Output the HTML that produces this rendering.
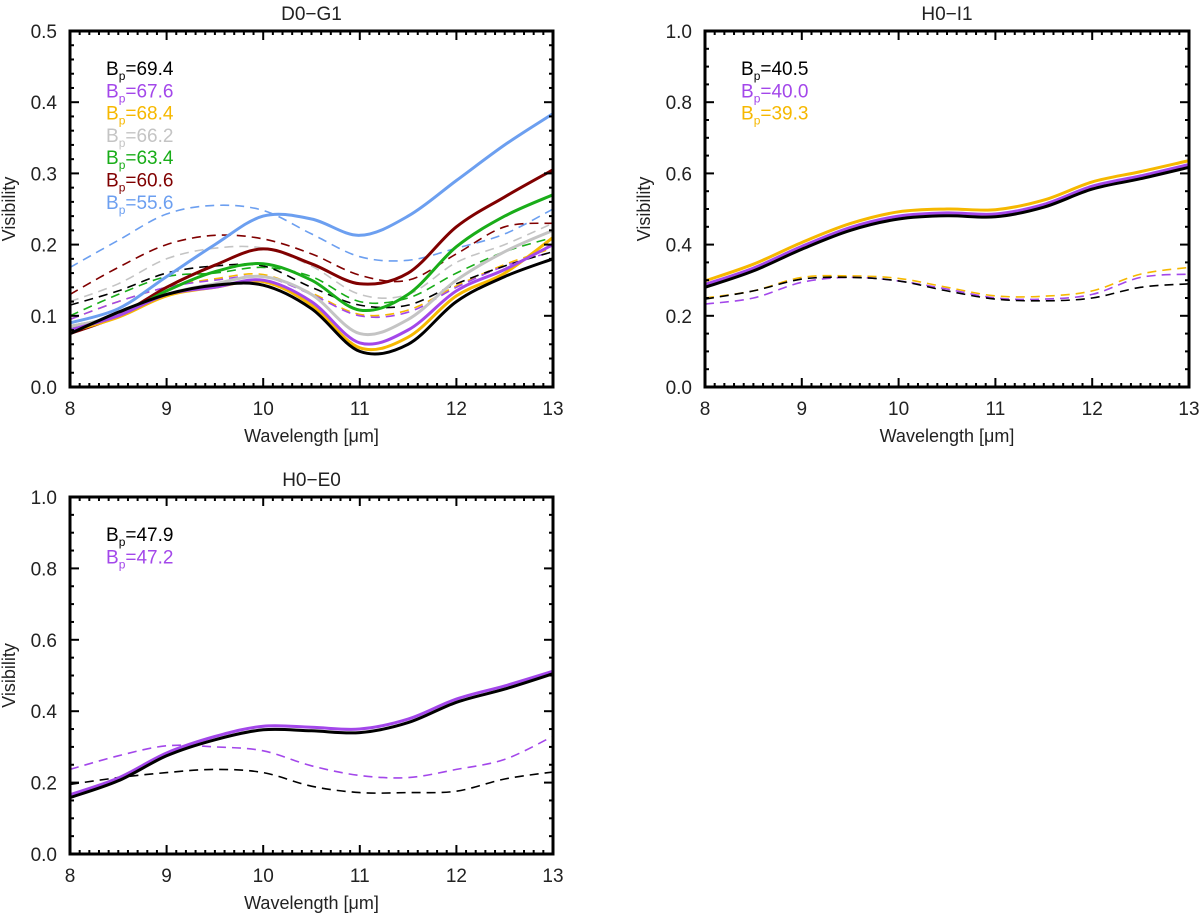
<!DOCTYPE html>
<html><head><meta charset="utf-8"><style>
body{margin:0;background:#fff;}
svg text{font-family:"Liberation Sans",sans-serif;fill:#222;}
</style></head><body>
<svg id="fig" width="1200" height="914" xmlns="http://www.w3.org/2000/svg"></svg>
<script>
// ---- data (wavelength grid in microns) ----
const wl = [8,8.5,9,9.5,10,10.5,11,11.5,12,12.5,13];
// Panel D0-G1
const p1Labels = ["69.4","67.6","68.4","66.2","63.4","60.6","55.6"];
const p1Colors = ["#000000","#a347ea","#f6b800","#c4c4c4","#19ad19","#800000","#6c9ff0"];
const p1Solid = [
 [0.075,0.105,0.130,0.143,0.143,0.110,0.050,0.060,0.120,0.155,0.180],
 [0.080,0.100,0.130,0.140,0.150,0.120,0.062,0.080,0.135,0.165,0.200],
 [0.078,0.098,0.128,0.140,0.148,0.115,0.055,0.070,0.128,0.160,0.210],
 [0.085,0.100,0.130,0.145,0.155,0.130,0.075,0.095,0.150,0.190,0.220],
 [0.085,0.100,0.135,0.162,0.173,0.150,0.108,0.130,0.197,0.240,0.270],
 [0.075,0.100,0.140,0.171,0.194,0.173,0.145,0.160,0.225,0.267,0.305],
 [0.090,0.110,0.155,0.200,0.240,0.236,0.213,0.240,0.290,0.340,0.384]
];
const p1Dashed = [
 [0.115,0.135,0.160,0.170,0.170,0.140,0.115,0.115,0.145,0.170,0.190],
 [0.095,0.120,0.140,0.150,0.155,0.130,0.100,0.105,0.140,0.170,0.190],
 [0.095,0.120,0.140,0.152,0.158,0.132,0.102,0.108,0.142,0.172,0.195],
 [0.120,0.145,0.180,0.195,0.195,0.170,0.130,0.130,0.175,0.200,0.230],
 [0.100,0.130,0.155,0.160,0.168,0.155,0.120,0.125,0.160,0.190,0.210],
 [0.130,0.168,0.200,0.213,0.208,0.187,0.157,0.150,0.187,0.225,0.230],
 [0.168,0.206,0.243,0.255,0.248,0.215,0.183,0.178,0.195,0.215,0.250]
];
// Panel H0-I1
const p2Labels = ["40.5","40.0","39.3"];
const p2Colors = ["#000000","#a347ea","#f6b800"];
const p2Solid = [
 [0.280,0.326,0.387,0.440,0.472,0.481,0.478,0.505,0.556,0.585,0.617],
 [0.288,0.334,0.395,0.448,0.480,0.489,0.486,0.513,0.564,0.593,0.625],
 [0.298,0.345,0.406,0.459,0.492,0.500,0.498,0.525,0.576,0.605,0.636]
];
const p2Dashed = [
 [0.247,0.270,0.303,0.308,0.298,0.270,0.247,0.242,0.250,0.280,0.290],
 [0.233,0.250,0.294,0.308,0.298,0.275,0.250,0.247,0.260,0.308,0.317],
 [0.250,0.270,0.308,0.312,0.305,0.280,0.256,0.255,0.270,0.317,0.336]
];
// Panel H0-E0
const p3Labels = ["47.9","47.2"];
const p3Colors = ["#000000","#a347ea"];
const p3Solid = [
 [0.158,0.205,0.275,0.320,0.348,0.345,0.340,0.368,0.425,0.462,0.505],
 [0.166,0.213,0.283,0.329,0.358,0.355,0.350,0.378,0.434,0.471,0.512]
];
const p3Dashed = [
 [0.195,0.214,0.228,0.237,0.228,0.190,0.172,0.172,0.176,0.210,0.230],
 [0.237,0.275,0.303,0.300,0.289,0.247,0.220,0.214,0.237,0.265,0.330]
];
const xTicks = [8,9,10,11,12,13];

const NS="http://www.w3.org/2000/svg";
const svg=document.getElementById('fig');
function mk(tag,attrs,parent){const e=document.createElementNS(NS,tag);for(const k in attrs)e.setAttribute(k,attrs[k]);(parent||svg).appendChild(e);return e;}
function smooth(pts){let d="M"+pts[0][0].toFixed(1)+","+pts[0][1].toFixed(1);
 for(let i=0;i<pts.length-1;i++){const p0=pts[Math.max(0,i-1)],p1=pts[i],p2=pts[i+1],p3=pts[Math.min(pts.length-1,i+2)];
  const c1=[p1[0]+(p2[0]-p0[0])/6,p1[1]+(p2[1]-p0[1])/6],c2=[p2[0]-(p3[0]-p1[0])/6,p2[1]-(p3[1]-p1[1])/6];
  d+=" C"+c1[0].toFixed(1)+","+c1[1].toFixed(1)+" "+c2[0].toFixed(1)+","+c2[1].toFixed(1)+" "+p2[0].toFixed(1)+","+p2[1].toFixed(1);}
 return d;}

function panel(name,title,L,R,T,B,ymax,yMajor,yMinor,labels,colors,solid,dashed){
 const g=mk('g',{});
 
 
 const sx=v=>L+(v-8)/5*(R-L), sy=v=>B-v/ymax*(B-T);
 for(let s=dashed.length-1;s>=0;s--){
  const p=mk('path',{d:smooth(wl.map((w,i)=>[sx(w),sy(dashed[s][i])])),fill:'none',stroke:colors[s],'stroke-width':1.6,'stroke-dasharray':'9,6'},g);
  
  
 }
 for(let s=solid.length-1;s>=0;s--){
  const p=mk('path',{d:smooth(wl.map((w,i)=>[sx(w),sy(solid[s][i])])),fill:'none',stroke:colors[s],'stroke-width':3,'stroke-linejoin':'round'},g);
  
  
 }
 const fr=mk('rect',{x:L,y:T,width:R-L,height:B-T,fill:'none',stroke:'#000','stroke-width':3},g);
 
 
 for(let v=8;v<=13.001;v+=0.1){const x=sx(v);const maj=Math.abs(v-Math.round(v))<0.01;const len=maj?9:4;
  mk('line',{x1:x,y1:B,x2:x,y2:B-len,stroke:'#000','stroke-width':2},g);mk('line',{x1:x,y1:T,x2:x,y2:T+len,stroke:'#000','stroke-width':2},g);}
 for(const v of xTicks){const t=mk('text',{x:sx(v),y:B+28,'text-anchor':'middle','font-size':19},g);t.textContent=v;
  
  }
 for(let k=0;k<=Math.round(ymax/yMinor);k++){const v=k*yMinor;const y=sy(v);const maj=Math.abs(v/yMajor-Math.round(v/yMajor))<0.01;const len=maj?9:4;
  mk('line',{x1:L,y1:y,x2:L+len,y2:y,stroke:'#000','stroke-width':2},g);mk('line',{x1:R,y1:y,x2:R-len,y2:y,stroke:'#000','stroke-width':2},g);
  if(maj){const t=mk('text',{x:L-13,y:y+7,'text-anchor':'end','font-size':19},g);t.textContent=v.toFixed(1);
   
   }}
 const tt=mk('text',{x:(L+R)/2,y:T-11,'text-anchor':'middle','font-size':19},g);tt.textContent=title;
 
 
 const xt=mk('text',{x:(L+R)/2,y:B+55,'text-anchor':'middle','font-size':18},g);xt.textContent='Wavelength [μm]';
 
 
 const yt=mk('text',{x:0,y:0,'text-anchor':'middle','font-size':18,transform:'translate('+(L-55)+','+((T+B)/2)+') rotate(-90)'},g);yt.textContent='Visibility';
 
 
 labels.forEach((lb,i)=>{const t=mk('text',{x:L+36,y:T+44+i*22.3,'font-size':19,style:'fill:'+colors[i]},g);
  
  
  const a=mk('tspan',{},t);a.textContent='B';const b=mk('tspan',{dy:5,'font-size':12},t);b.textContent='p';const c=mk('tspan',{dy:-5},t);c.textContent='='+lb;});
}
panel('panel-d0-g1','D0−G1',70,553,31,387,0.5,0.1,0.02,p1Labels,p1Colors,p1Solid,p1Dashed);
panel('panel-h0-i1','H0−I1',705,1189,31,387,1.0,0.2,0.05,p2Labels,p2Colors,p2Solid,p2Dashed);
panel('panel-h0-e0','H0−E0',70,553,497,854,1.0,0.2,0.05,p3Labels,p3Colors,p3Solid,p3Dashed);
</script>
</body></html>
